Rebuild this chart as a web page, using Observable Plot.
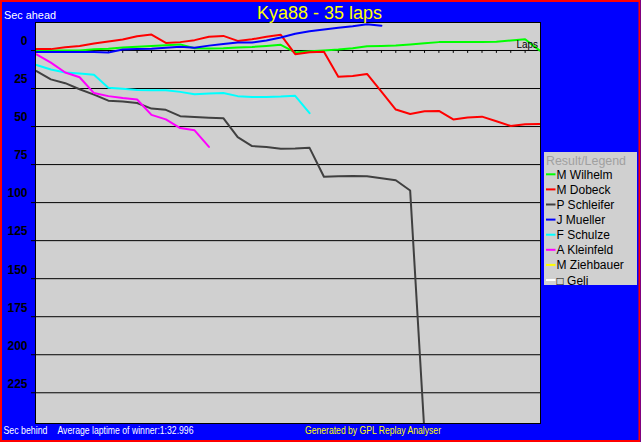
<!DOCTYPE html>
<html>
<head>
<meta charset="utf-8">
<script src="https://cdn.jsdelivr.net/npm/d3@7"></script>
<script src="https://cdn.jsdelivr.net/npm/@observablehq/plot@0.6"></script>
<style>
  html, body { margin: 0; padding: 0; background: #0000ff; }
  #chart { width: 641px; height: 442px; overflow: hidden; }
</style>
</head>
<body>
<div id="chart"></div>
<script>
// ---- data (seconds behind the winner's average pace; negative = ahead) ----
const drivers = ["M Wilhelm", "M Dobeck", "P Schleifer", "J Mueller", "F Schulze", "A Kleinfeld", "M Ziehbauer", "\u25A1 Geli"];
const colors  = ["#00ff00", "#ff0000", "#404040", "#0000ff", "#00ffff", "#ff00ff", "#ffff00", "#ffffff"];

const wilhelm   = [0, 0, 0, 0, -0.8, -1.2, -2, -2.5, -3, -3.5, -4, -1.5, -1.3, -1.5, -2, -2.3, -3, -3.7, 1.3, 0.5, 0, -0.6, -1.5, -2.8, -3, -3.3, -4, -4.8, -5.5, -5.5, -5.5, -5.5, -5.8, -6.6, -7.4, 0];
const dobeck    = [-0.9, -0.9, -2.2, -3, -4.6, -5.9, -7.2, -9.4, -10.5, -5, -5.5, -6.8, -9, -9.6, -6.3, -7.4, -9, -10.3, 2.4, 1.1, 0.9, 17.2, 16.7, 15.4, 27, 38.8, 41.7, 40, 39.7, 45.3, 44, 43.5, 46.5, 49.6, 48.5, 48.3];
const schleifer = [13.5, 19, 21.5, 25.5, 29, 33, 33.5, 34.5, 38.2, 39, 43.2, 43.8, 44.2, 44.5, 57, 62.8, 63.5, 64.6, 64.5, 64, 83, 82.6, 82.5, 82.7, 84, 85.3, 92, 252];
const mueller   = [1, 1, 1, 1, 1, 1.3, -0.6, -1, -1.2, -1.8, -2.4, -1.8, -3.2, -4.3, -5.3, -5.3, -6.6, -8.5, -11, -12.7, -13.8, -15, -16, -17.3, -16.3];
const schulze   = [9.5, 12.5, 14.5, 15.1, 16, 24.5, 25.2, 26, 26.1, 26.1, 27.2, 28.8, 28.3, 27.9, 30, 30.5, 30.5, 30.3, 29.8, 41.2];
const kleinfeld = [2.5, 8, 14.5, 17.6, 28, 30, 31.3, 32.2, 42.3, 45.3, 51, 52.5, 63.4];
const ziehbauer = [];
const geli      = [];

const yTicks   = [0, 25, 50, 75, 100, 125, 150, 175, 200, 225];
const lapTicks = d3.range(1, 35);
const title    = "Kya88 - 35 laps";
const avgText  = "Average laptime of winner:1:32.996";

const series = [wilhelm, dobeck, schleifer, mueller, schulze, kleinfeld, ziehbauer, geli];
const rows = drivers.flatMap((name, i) => series[i].map((v, lap) => ({name, lap, v})));

const chart = Plot.plot({
  width: 641,
  height: 442,
  marginLeft: 35,
  marginRight: 101,
  marginTop: 22,
  marginBottom: 19,
  style: {background: "#0000ff", fontFamily: "'Liberation Sans', Arial, sans-serif", overflow: "visible"},
  x: {domain: [0, 35], insetLeft: 1, insetRight: 1, axis: null},
  y: {domain: [245.2, -18.4]},
  color: {domain: drivers, range: colors},
  marks: [
    Plot.frame({fill: "#d0d0d0", stroke: null}),
    Plot.ruleY(yTicks, {stroke: "black", strokeWidth: 1}),
    Plot.ruleX(lapTicks, {y1: 0, y2: 1.9, stroke: "black", strokeWidth: 1}),
    Plot.line(rows, {x: "lap", y: "v", z: "name", stroke: "name", strokeWidth: 2, clip: true}),
    Plot.frame({stroke: "black", strokeWidth: 1}),
    Plot.axisY(yTicks, {tickSize: 4, fill: "none", stroke: "black", label: null}),
    Plot.axisY(yTicks, {tickSize: 0, tickPadding: 8, dy: -9, fontWeight: "bold", fontSize: 12, fill: "black", label: null})
  ]
});
document.getElementById("chart").appendChild(chart);

// ---- annotations, legend and border ----
const svg = d3.select(chart);
const font = "'Liberation Sans', Arial, sans-serif";
function txt(x, y, s, opts = {}) {
  const t = svg.append("text")
    .attr("x", x).attr("y", y)
    .attr("fill", opts.fill || "white")
    .attr("font-size", opts.size || 11)
    .attr("font-family", font)
    .attr("text-anchor", opts.anchor || "start")
    .text(s);
  if (opts.len) t.attr("textLength", opts.len).attr("lengthAdjust", "spacingAndGlyphs");
  return t;
}
txt(319.5, 19, title, {fill: "#ffff00", size: 18, anchor: "middle", len: 125});
txt(4, 19, "Sec ahead", {len: 52});
txt(3.5, 434, "Sec behind", {len: 44});
txt(57.5, 434, avgText, {len: 136});
txt(305, 434, "Generated by GPL Replay Analyser", {fill: "#ffff00", len: 136});
txt(538, 47.5, "Laps", {fill: "black", size: 11, anchor: "end", len: 21.5});

// legend box
svg.append("rect").attr("x", 544).attr("y", 152).attr("width", 93).attr("height", 133).attr("fill", "#d0d0d0");
txt(546, 164.5, "Result/Legend", {fill: "#a0a0a0", size: 12, len: 80});
drivers.forEach((name, i) => {
  const cy = 174.3 + i * 15.1;
  svg.append("line").attr("x1", 546).attr("x2", 555.5).attr("y1", cy).attr("y2", cy)
    .attr("stroke", colors[i]).attr("stroke-width", 2);
  txt(556.5, cy + 4.5, name, {fill: "black", size: 12});
});

// outer red border
svg.append("rect").attr("x", 1).attr("y", 1).attr("width", 638.5).attr("height", 440)
  .attr("fill", "none").attr("stroke", "#ff0000").attr("stroke-width", 2);
</script>
</body>
</html>
